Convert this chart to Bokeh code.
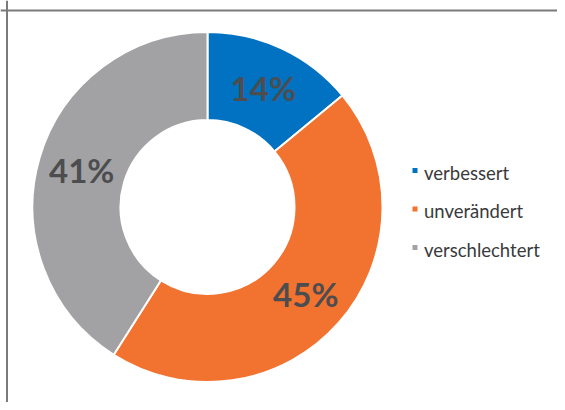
import math
from bokeh.plotting import figure
from bokeh.models import Range1d, Span, ColumnDataSource
from bokeh.core.properties import value
from bokeh.embed import file_html
from bokeh.resources import INLINE

categories = ["verbessert", "unverändert", "verschlechtert"]
shares = [14, 45, 41]
labels = ["14%", "45%", "41%"]
colors = ["#0072C1", "#F2722F", "#A2A2A5"]

W, H = 557, 402
cx_px, cy_px = 207, 206.5  # centre of donut in figure pixels (from top-left)
p = figure(width=W, height=H, output_backend="svg", toolbar_location=None,
           x_range=Range1d(-cx_px, W - cx_px), y_range=Range1d(-(H - cy_px), cy_px),
           min_border=0, outline_line_color=None)
p.axis.visible = False
p.grid.visible = False
p.background_fill_color = "white"
p.border_fill_color = "white"

R_OUT, R_IN = 175, 87
total = sum(shares)
starts, ends, mids = [], [], []
a = math.pi / 2
for s in shares:
    b = a - 2 * math.pi * s / total
    starts.append(a)
    ends.append(b)
    mids.append((a + b) / 2)
    a = b

src = ColumnDataSource(dict(start=starts, end=ends, color=colors))
p.annular_wedge(x=0, y=0, inner_radius=R_IN, outer_radius=R_OUT,
                start_angle="end", end_angle="start", fill_color="color",
                line_color="white", line_width=2, source=src)

r_mid = (R_IN + R_OUT) / 2
lx = [r_mid * math.cos(m) for m in mids]
ly = [r_mid * math.sin(m) for m in mids]
p.text(x=lx, y=ly, text=labels, text_align="center", text_baseline="middle",
       text_font=value("Lato"), text_font_style="bold", text_font_size="33px",
       text_color="#4d4d4f")

# legend
leg_x, leg_y0, leg_dy = 207.5, 36.5, 38.5
ys = [leg_y0 - i * leg_dy for i in range(len(categories))]
p.scatter(x=[leg_x] * 3, y=ys, marker="square", size=5, fill_color=colors, line_color=None)
p.text(x=[leg_x + 9] * 3, y=[y - 2 for y in ys], text=categories, text_align="left",
       text_baseline="alphabetic", text_font=value("Lato"), text_font_size="18.5px",
       text_color="#3a3a3c")

# frame lines (top and left)
p.add_layout(Span(location=cy_px - 10, dimension="width", line_color="#7a7a7a", line_width=2))
p.add_layout(Span(location=-cx_px + 6.5, dimension="height", line_color="#7a7a7a", line_width=2))

open("out.html", "w").write(file_html(p, INLINE))
